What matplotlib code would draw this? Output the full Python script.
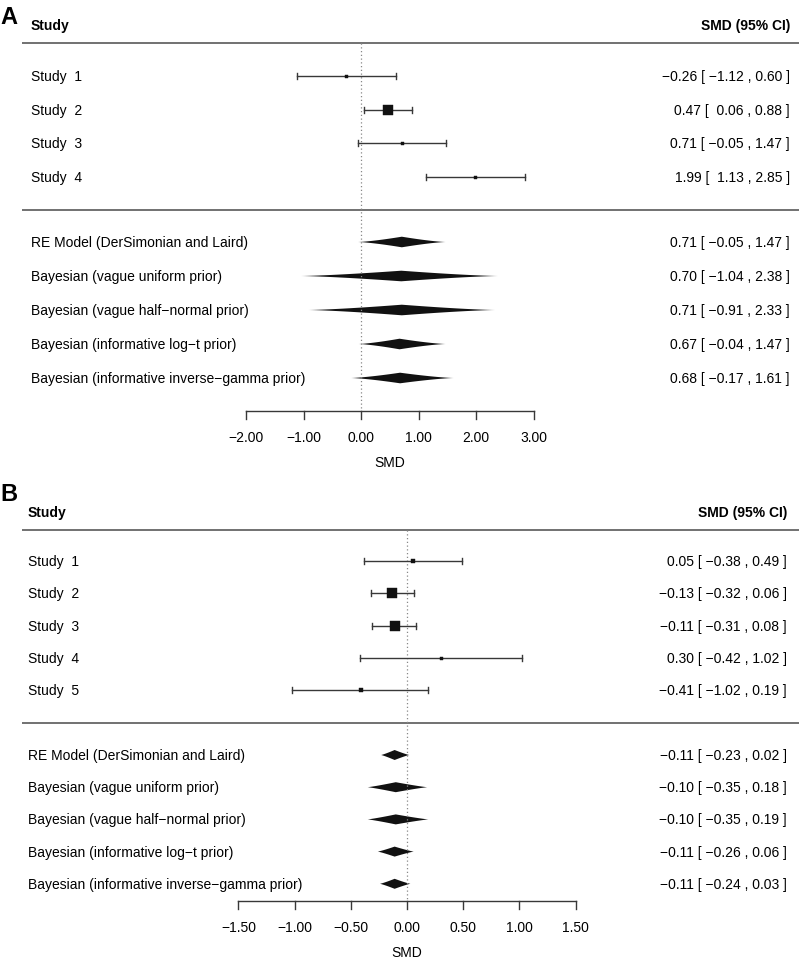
import numpy as np
import matplotlib
matplotlib.use('Agg')
import matplotlib.pyplot as plt

plt.rcParams['font.family'] = ['Liberation Sans', 'DejaVu Sans']

# Panel A data #################################################################
a_studies = ['Study  1', 'Study  2', 'Study  3', 'Study  4']
a_est = [-0.26, 0.47, 0.71, 1.99]
a_lo = [-1.12, 0.06, -0.05, 1.13]
a_hi = [0.60, 0.88, 1.47, 2.85]
a_box = [3, 10, 3, 3]   # relative study weight -> box side (px)

models = ['RE Model (DerSimonian and Laird)',
          'Bayesian (vague uniform prior)',
          'Bayesian (vague half\u2212normal prior)',
          'Bayesian (informative log\u2212t prior)',
          'Bayesian (informative inverse\u2212gamma prior)']
a_mod_est = [0.71, 0.70, 0.71, 0.67, 0.68]
a_mod_lo = [-0.05, -1.04, -0.91, -0.04, -0.17]
a_mod_hi = [1.47, 2.38, 2.33, 1.47, 1.61]
a_ticks = [-2.0, -1.0, 0.0, 1.0, 2.0, 3.0]

# Panel B data #################################################################
b_studies = ['Study  1', 'Study  2', 'Study  3', 'Study  4', 'Study  5']
b_est = [0.05, -0.13, -0.11, 0.30, -0.41]
b_lo = [-0.38, -0.32, -0.31, -0.42, -1.02]
b_hi = [0.49, 0.06, 0.08, 1.02, 0.19]
b_box = [5, 9.5, 9.5, 3, 3.5]

b_mod_est = [-0.11, -0.10, -0.10, -0.11, -0.11]
b_mod_lo = [-0.23, -0.35, -0.35, -0.26, -0.24]
b_mod_hi = [0.02, 0.18, 0.19, 0.06, 0.03]
b_ticks = [-1.5, -1.0, -0.5, 0.0, 0.5, 1.0, 1.5]

W, H = 799, 962
DPI = 100
PX = 72.0 / DPI   # points per pixel


def fmt(v):
    return ('%5.2f' % v).replace('-', '\u2212')


def ci_text(e, l, h):
    return '%s [ %s , %s ]' % (fmt(e).strip(), fmt(l), fmt(h).strip())


def forest(ax, letter, studies, est, lo, hi, box, mest, mlo, mhi, ticks,
           zero_px, ppu, y0, lay):
    # map pixel coordinates into data coordinates of this panel
    ax.set_xlim(-zero_px / ppu, (W - zero_px) / ppu)
    ax.set_ylim(y0 + H / 2, y0)
    ax.axis('off')
    px = lambda p: (p - zero_px) / ppu

    grey = '#383838'
    ax.text(px(0), y0 + lay['letter'], letter, fontsize=17, fontweight='bold',
            ha='left', va='center')
    ax.text(px(lay['left']), y0 + lay['head'], 'Study', fontsize=10,
            fontweight='bold', ha='left', va='center')
    ax.text(px(lay['right']), y0 + lay['head'], 'SMD (95% CI)', fontsize=10,
            fontweight='bold', ha='right', va='center')
    for yl in (lay['line1'], lay['line2']):
        ax.plot([px(22), px(W)], [y0 + yl] * 2, color='#666666', lw=1.3,
                solid_capstyle='butt')

    # reference line at zero
    ax.plot([0, 0], [y0 + lay['line1'], y0 + lay['axis']], color='#888888',
            lw=0.9, ls=(0, (1, 2)))

    cap = 3
    for i, name in enumerate(studies):
        y = y0 + lay['s0'] + i * lay['sstep']
        ax.text(px(lay['left']), y, name, fontsize=10, ha='left', va='center')
        ax.text(px(lay['right']), y, ci_text(est[i], lo[i], hi[i]),
                fontsize=10, ha='right', va='center')
        ax.plot([lo[i], hi[i]], [y, y], color=grey, lw=1.0)
        for xe in (lo[i], hi[i]):
            ax.plot([xe, xe], [y - cap, y + cap], color=grey, lw=1.0)
        ax.plot(est[i], y, marker='s', ms=box[i] * PX, color='#111111',
                mec='#111111', mew=0.3)

    # summary diamonds (slightly concave sides)
    t = np.linspace(0, 1, 40)
    for i, name in enumerate(models):
        y = y0 + lay['m0'] + i * lay['mstep']
        ax.text(px(lay['left']), y, name, fontsize=10, ha='left', va='center')
        ax.text(px(lay['right']), y, ci_text(mest[i], mlo[i], mhi[i]),
                fontsize=10, ha='right', va='center')
        hh = lay['dia'] * (1 - t) ** lay['curve']
        xs = np.concatenate([mest[i] - (mest[i] - mlo[i]) * t[::-1],
                             mest[i] + (mhi[i] - mest[i]) * t])
        up = np.concatenate([hh[::-1], hh])
        ax.fill(np.concatenate([xs, xs[::-1]]),
                np.concatenate([y - up, (y + up)[::-1]]),
                color='#111111', lw=0)

    # x axis
    ya = y0 + lay['axis']
    ax.plot([ticks[0], ticks[-1]], [ya, ya], color=grey, lw=1.0)
    for tk in ticks:
        ax.plot([tk, tk], [ya, ya + 8], color=grey, lw=1.0)
        ax.text(tk, ya + 26, fmt(tk).strip(), fontsize=10, ha='center',
                va='center')
    ax.text((ticks[0] + ticks[-1]) / 2, ya + 51, 'SMD', fontsize=10,
            ha='center', va='center')


fig = plt.figure(figsize=(W / DPI, H / DPI), dpi=DPI)
ax_a = fig.add_axes([0, 0.5, 1, 0.5])
ax_b = fig.add_axes([0, 0, 1, 0.5])

lay_a = dict(letter=17, left=31, right=790, head=26, line1=44, line2=211,
             s0=77, sstep=33.6, m0=243, mstep=34, axis=412, dia=5.3,
             curve=1.35)
lay_b = dict(letter=14, left=28, right=787, head=32, line1=50, line2=243,
             s0=81, sstep=32.3, m0=275, mstep=32.2, axis=421, dia=5,
             curve=1.15)

forest(ax_a, 'A', a_studies, a_est, a_lo, a_hi, a_box,
       a_mod_est, a_mod_lo, a_mod_hi, a_ticks, 361, 57.5, 0, lay_a)
forest(ax_b, 'B', b_studies, b_est, b_lo, b_hi, b_box,
       b_mod_est, b_mod_lo, b_mod_hi, b_ticks, 407, 112.4, H / 2, lay_b)

fig.savefig('out.png', dpi=DPI)
